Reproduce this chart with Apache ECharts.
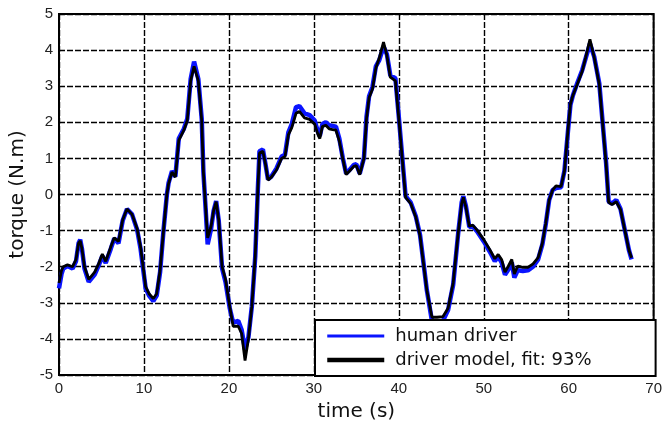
<!DOCTYPE html>
<html>
<head>
<meta charset="utf-8">
<script src="https://cdn.jsdelivr.net/npm/echarts@6/dist/echarts.min.js"></script>
<style>
  html, body { margin: 0; padding: 0; background: #fff; }
  #chart { width: 665px; height: 427px; }
</style>
</head>
<body>
<div id="chart"></div>
<script>
// time samples (s)
const time = [
  0.0, 0.3, 0.5, 1.0, 1.6, 2.0, 2.3, 2.5, 2.7, 3.0, 3.5, 4.2, 4.7, 5.1, 5.5, 6.1, 6.5, 7.0, 7.5, 8.0,
  8.6, 9.2, 9.6, 10.2, 10.6, 11.1, 11.5, 11.9, 12.3, 12.7, 12.9, 13.3, 13.7, 14.1, 14.7, 15.1, 15.5, 15.9, 16.4, 16.8,
  17.0, 17.3, 17.5, 17.9, 18.2, 18.5, 18.8, 19.2, 19.6, 20.1, 20.5, 21.1, 21.5, 21.9, 22.3, 22.7, 23.1, 23.4, 23.6, 24.0,
  24.3, 24.6, 25.0, 25.6, 26.2, 26.6, 27.0, 27.4, 27.9, 28.3, 28.9, 29.5, 30.1, 30.5, 30.7, 31.0, 31.4, 31.8, 32.2, 32.6,
  33.0, 33.4, 33.8, 34.2, 34.7, 35.0, 35.4, 35.9, 36.2, 36.5, 36.9, 37.3, 37.7, 38.2, 38.6, 39.0, 39.6, 40.0, 40.4, 40.8,
  41.4, 42.0, 42.5, 42.9, 43.3, 43.9, 44.5, 45.2, 45.8, 46.4, 47.0, 47.4, 47.6, 47.9, 48.3, 48.7, 49.2, 50.0, 50.7, 51.3,
  51.7, 52.1, 52.5, 52.9, 53.3, 53.6, 54.0, 54.6, 55.2, 55.8, 56.4, 56.9, 57.3, 57.7, 58.1, 58.5, 59.1, 59.5, 59.9, 60.2,
  60.5, 61.0, 61.6, 62.0, 62.5, 63.0, 63.6, 64.0, 64.4, 64.7, 65.1, 65.6, 66.1, 66.6, 67.1, 67.4
]
// measured torque (N.m)
const humanDriver = [
  -2.6, -2.2, -2.05, -1.98, -2.05, -1.85, -1.35, -1.25, -1.5, -2.05, -2.42, -2.22, -1.95, -1.7, -1.9, -1.5, -1.22, -1.35, -0.72, -0.4,
  -0.55, -0.98, -1.5, -2.6, -2.8, -2.95, -2.8, -2.15, -1.0, 0.0, 0.32, 0.65, 0.5, 1.55, 1.82, 2.1, 3.2, 3.68, 3.2, 2.1,
  0.62, -0.55, -1.38, -0.95, -0.45, -0.18, -0.72, -2.05, -2.42, -3.15, -3.55, -3.5, -3.75, -4.3, -3.95, -3.1, -1.72, 0.1, 1.2, 1.25,
  0.85, 0.42, 0.5, 0.72, 1.05, 1.1, 1.72, 1.95, 2.42, 2.45, 2.25, 2.2, 2.05, 1.72, 1.62, 1.95, 2.0, 1.92, 1.9, 1.88,
  1.55, 1.02, 0.58, 0.68, 0.82, 0.84, 0.58, 1.02, 2.15, 2.72, 2.98, 3.55, 3.72, 4.1, 3.88, 3.3, 3.22, 2.15, 1.05, -0.05,
  -0.22, -0.6, -1.12, -1.88, -2.65, -3.5, -3.55, -3.5, -3.2, -2.5, -1.05, -0.22, -0.05, -0.32, -0.9, -0.88, -1.02, -1.3, -1.58, -1.85,
  -1.72, -1.88, -2.22, -2.08, -1.88, -2.3, -2.1, -2.12, -2.1, -2.0, -1.8, -1.38, -0.82, -0.15, 0.12, 0.18, 0.2, 0.66, 1.72, 2.48,
  2.75, 3.08, 3.45, 3.78, 4.18, 3.82, 3.08, 1.98, 0.88, -0.2, -0.25, -0.15, -0.4, -0.98, -1.55, -1.8
]
// model output torque (N.m)
const driverModel = [
  -2.45, -2.1, -2.0, -1.95, -2.0, -1.8, -1.35, -1.28, -1.5, -2.0, -2.35, -2.15, -1.9, -1.65, -1.85, -1.45, -1.2, -1.3, -0.7, -0.4,
  -0.55, -0.95, -1.45, -2.55, -2.75, -2.88, -2.75, -2.1, -1.0, 0.0, 0.3, 0.62, 0.48, 1.5, 1.78, 2.05, 3.15, 3.55, 3.15, 2.05,
  0.6, -0.5, -1.2, -0.88, -0.45, -0.2, -0.7, -2.0, -2.35, -3.1, -3.65, -3.65, -3.85, -4.6, -4.0, -3.1, -1.7, 0.1, 1.15, 1.2,
  0.85, 0.4, 0.48, 0.68, 1.0, 1.05, 1.65, 1.85, 2.25, 2.3, 2.12, 2.08, 1.95, 1.65, 1.55, 1.88, 1.92, 1.82, 1.8, 1.78,
  1.48, 1.0, 0.55, 0.65, 0.78, 0.8, 0.55, 1.0, 2.1, 2.68, 2.92, 3.5, 3.78, 4.22, 3.85, 3.25, 3.15, 2.1, 1.0, -0.08,
  -0.25, -0.62, -1.15, -1.9, -2.65, -3.4, -3.4, -3.38, -3.15, -2.45, -1.05, -0.25, -0.08, -0.35, -0.88, -0.85, -0.98, -1.25, -1.52, -1.78,
  -1.66, -1.8, -2.15, -1.98, -1.8, -2.2, -1.98, -2.02, -2.02, -1.92, -1.75, -1.35, -0.8, -0.15, 0.12, 0.24, 0.22, 0.65, 1.75, 2.5,
  2.75, 3.05, 3.42, 3.8, 4.3, 3.8, 3.05, 1.95, 0.85, -0.22, -0.28, -0.2, -0.42, -0.98, -1.55, -1.75
]
const seriesNames = ['human driver', 'driver model, fit: 93%']

const dashLine = {
  show: true,
  lineStyle: { color: '#000', width: 1.4, type: [6, 2] }
}

const options = {
  animation: false,
  backgroundColor: '#fff',
  grid: {
    left: 56, right: 10, top: 14, bottom: 52,
    show: true,
    borderColor: '#000',
    borderWidth: 2
  },
  legend: {
    show: true,
    orient: 'vertical',
    left: 315,
    top: 320,
    data: [
      { name: seriesNames[0], lineStyle: { width: 3 }, itemStyle: { opacity: 0 } },
      { name: seriesNames[1], lineStyle: { width: 4.5 }, itemStyle: { opacity: 0 } }
    ],
    backgroundColor: '#fff',
    borderColor: '#000',
    borderWidth: 2,
    padding: [6, 64, 6, 10],
    itemWidth: 57,
    itemHeight: 14,
    itemGap: 4,
    textStyle: {
      fontFamily: 'DejaVu Sans',
      fontSize: 18,
      color: '#111',
      lineHeight: 20,
      padding: [0, 0, 0, 6]
    }
  },
  xAxis: {
    type: 'value',
    min: 0,
    max: 70,
    interval: 10,
    name: 'time (s)',
    nameLocation: 'middle',
    nameGap: 27,
    nameTextStyle: { fontFamily: 'DejaVu Sans', fontSize: 20, color: '#111' },
    axisLine: { show: true, onZero: false, lineStyle: { color: '#000', width: 2 } },
    axisTick: { show: false },
    axisLabel: { fontFamily: 'Liberation Sans', fontSize: 15, color: '#222', margin: 6 },
    splitLine: dashLine
  },
  yAxis: {
    type: 'value',
    min: -5,
    max: 5,
    interval: 1,
    name: 'torque (N.m)',
    nameLocation: 'middle',
    nameGap: 31,
    nameTextStyle: { fontFamily: 'DejaVu Sans', fontSize: 20, color: '#111' },
    axisLine: { show: true, onZero: false, lineStyle: { color: '#000', width: 2 } },
    axisTick: { show: false },
    axisLabel: { fontFamily: 'Liberation Sans', fontSize: 15, color: '#222', margin: 6 },
    splitLine: dashLine
  },
  series: [
    {
      name: seriesNames[0],
      type: 'line',
      symbol: 'none',
      data: time.map((t, i) => [t, humanDriver[i]]),
      lineStyle: { color: '#0a14ff', width: 4.5 },
      itemStyle: { color: '#0a14ff' },
      z: 2
    },
    {
      name: seriesNames[1],
      type: 'line',
      symbol: 'none',
      data: time.map((t, i) => [t, driverModel[i]]),
      lineStyle: { color: '#000', width: 2.8 },
      itemStyle: { color: '#000' },
      z: 3
    }
  ]
}

const chart = echarts.init(document.getElementById('chart'))
chart.setOption(options)
</script>
</body>
</html>
